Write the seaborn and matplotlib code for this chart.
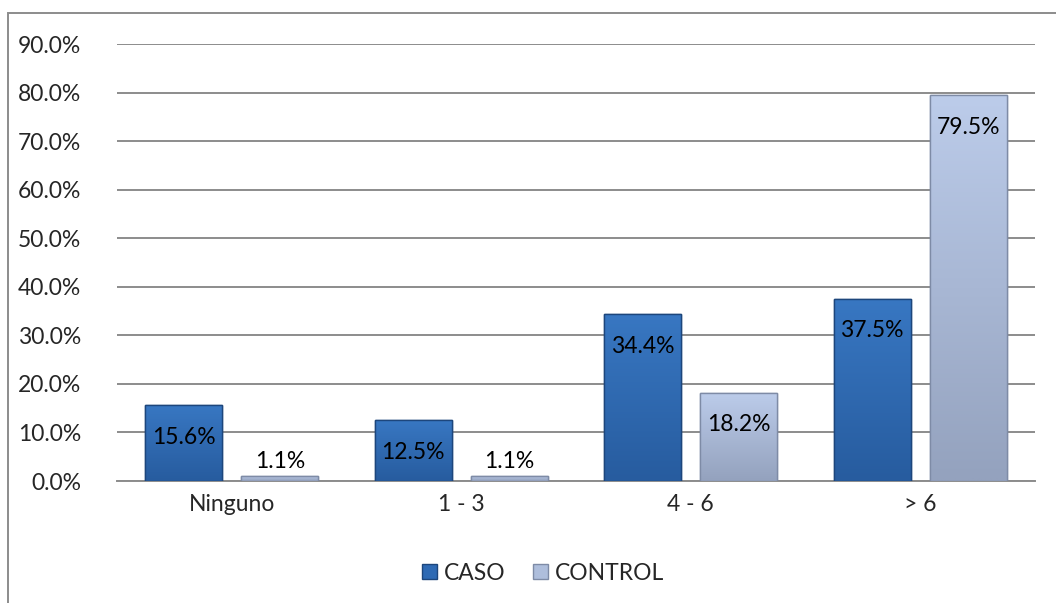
import matplotlib
matplotlib.use("Agg")
import matplotlib.pyplot as plt
import matplotlib.patches as mpatches
from matplotlib.colors import to_rgba
import numpy as np
import pandas as pd
import seaborn as sns

# Number of events per group, percentage of subjects
categorias = ["Ninguno", "1 - 3", "4 - 6", "> 6"]
caso = [15.6, 12.5, 34.4, 37.5]
control = [1.1, 1.1, 18.2, 79.5]
grupos = ["CASO", "CONTROL"]
colores = {"CASO": "#2E6AB4", "CONTROL": "#AEBEDC"}
bordes = {"CASO": "#1D467C", "CONTROL": "#7E8BA6"}
# vertical shading of each bar (top, bottom)
sombreado = {"CASO": ("#3877C2", "#275C9F"), "CONTROL": ("#BCCCEA", "#94A2BE")}

df = pd.DataFrame({
    "categoria": categorias * 2,
    "valor": caso + control,
    "grupo": ["CASO"] * len(categorias) + ["CONTROL"] * len(categorias),
})

sns.set_theme(style="white")
plt.rcParams["font.family"] = ["Lato", "DejaVu Sans"]
FS = 16.5

fig = plt.figure(figsize=(10.56, 6.03), dpi=100)
ax = fig.add_axes([0.1108, 0.2023, 0.8692, 0.7247])

sns.barplot(data=df, x="categoria", y="valor", hue="grupo", order=categorias,
            hue_order=grupos, palette=colores, saturation=1, width=0.837, gap=0.2,
            ax=ax, legend=False, zorder=3)

ax.set_xlim(-0.5, 3.5)
ax.set_ylim(0, 90)

# shading, bar edges and value labels
for cont, g in zip(ax.containers, grupos):
    top, bot = to_rgba(sombreado[g][0]), to_rgba(sombreado[g][1])
    for bar, v in zip(cont, cont.datavalues):
        bar.set_edgecolor(bordes[g])
        bar.set_linewidth(1.0)
        x0, w, h = bar.get_x(), bar.get_width(), bar.get_height()
        t = np.linspace(0, 1, 64)[:, None]
        grad = (1 - t) * np.array(bot) + t * np.array(top)
        img = ax.imshow(grad[:, None, :], extent=(x0, x0 + w, 0, h), origin="lower",
                        aspect="auto", zorder=3.5, interpolation="bilinear")
        img.set_clip_path(bar)
        ax.add_patch(mpatches.Rectangle((x0, 0), w, h, fill=False,
                                        edgecolor=bordes[g], linewidth=1.0, zorder=3.6))
        x = x0 + w / 2
        txt = f"{v:.1f}%"
        if v < 5:
            ax.text(x, v + 2.9, txt, ha="center", va="center", fontsize=FS,
                    color="black", zorder=5)
        else:
            ax.text(x, v - 6.6, txt, ha="center", va="center", fontsize=FS,
                    color="black", zorder=5)

ax.set_xlim(-0.5, 3.5)
ax.set_ylim(0, 90)
ax.set_yticks(range(0, 91, 10))
ax.set_yticklabels([f"{t:.1f}%" for t in range(0, 91, 10)])
ax.yaxis.grid(True, color="#8C8C8C", linewidth=1.4, zorder=0)
ax.set_axisbelow(True)
ax.set_xlabel("")
ax.set_ylabel("")
ax.tick_params(axis="y", length=0, pad=26, labelsize=FS)
ax.tick_params(axis="x", length=0, pad=9, labelsize=FS)
for s in ["left", "right", "top"]:
    ax.spines[s].set_visible(False)
ax.spines["bottom"].set_color("#8C8C8C")
ax.spines["bottom"].set_linewidth(1.4)

handles = [mpatches.Patch(facecolor=colores[g], edgecolor=bordes[g], label=g)
           for g in grupos]
fig.legend(handles=handles, loc="center", bbox_to_anchor=(543 / 1056, 1 - 573 / 603),
           ncol=2, frameon=False, fontsize=FS, handlelength=0.65, handleheight=0.65,
           handletextpad=0.3, columnspacing=1.2)

# chart frame
fig.patches.append(mpatches.Rectangle((8 / 1056, -0.05), 1.2, 1 - 13 / 603 + 0.05,
                                      transform=fig.transFigure, fill=False,
                                      edgecolor="#8C8C8C", linewidth=1.4))

fig.savefig("out.png", dpi=100)
